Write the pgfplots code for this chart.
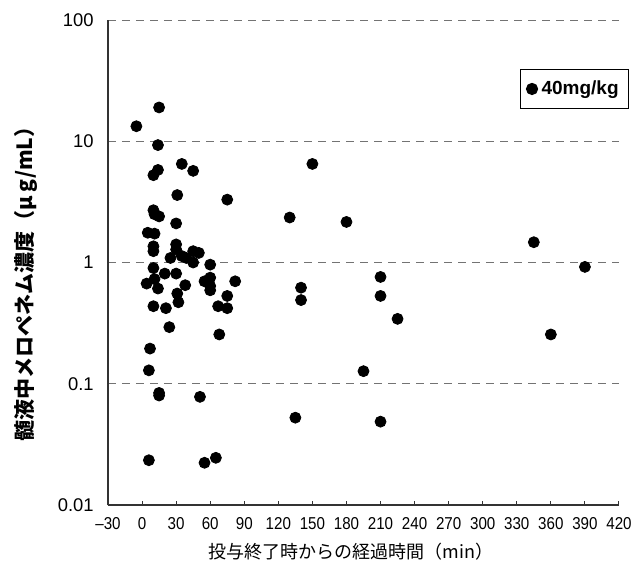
\documentclass[border=0pt]{standalone}
\usepackage{pgfplots}
\pgfplotsset{compat=1.18}
\usepackage{fontspec}
\setmainfont{Liberation Sans}
\newfontfamily\cjk{Noto Sans CJK JP}
\newfontfamily\narrow{Liberation Sans}[FakeStretch=0.88]

\pgfplotstableread{
x y
-5 13.3
15 19
14 9.3
35 6.5
45 5.7
14 5.8
10 5.25
31 3.6
75 3.3
130 2.35
150 6.5
10 2.7
11 2.5
15 2.4
30 2.1
5 1.76
11 1.73
10 1.36
10 1.24
30 1.41
30 1.28
25 1.09
35 1.13
45 1.24
50 1.2
45 1.0
39 1.09
60 0.96
10 0.9
20 0.81
30 0.81
4 0.67
11 0.73
14 0.61
38 0.65
55 0.70
60 0.75
60 0.64
82 0.70
31 0.555
75 0.53
10 0.436
21 0.42
67 0.436
75 0.42
60 0.59
32 0.47
24 0.293
68 0.255
7 0.195
6 0.129
15 0.084
15 0.080
51 0.078
6 0.0234
55 0.0223
65 0.0245
140 0.62
140 0.49
180 2.16
345 1.47
390 0.92
210 0.76
210 0.53
225 0.343
360 0.255
195 0.127
135 0.0525
210 0.0487
}\meropenem

\begin{document}
\begin{tikzpicture}
\useasboundingbox (0,0) rectangle (316pt,284pt);
\begin{axis}[
  at={(54pt,31.5pt)}, anchor=south west,
  scale only axis, width=255.5pt, height=242.5pt,
  ymode=log,
  xmin=-30, xmax=420, ymin=0.01, ymax=100,
  axis x line*=bottom, axis y line*=left,
  axis line style={-, black!80, line width=0.6pt},
  xtick={-30,0,30,60,90,120,150,180,210,240,270,300,330,360,390,420},
  xticklabels={–30,0,30,60,90,120,150,180,210,240,270,300,330,360,390,420},
  ytick={0.01,0.1,1,10,100},
  yticklabels={0.01,0.1,1,10,100},
  minor ytick={},
  tick align=inside,
  xtick style={black!80, line width=0.5pt},
  major tick length=2pt,
  ytick style={draw=none},
  xticklabel style={font=\narrow\fontsize{8.6}{9}\selectfont, anchor=center, yshift=-9.5pt},
  yticklabel style={font=\fontsize{9.2}{10}\selectfont, anchor=east, inner sep=0pt, xshift=-7pt},
  /pgf/number format/assume math mode=true,
  ymajorgrids=true,
  major grid style={dash pattern=on 4pt off 3pt, black!55, line width=0.5pt},
  xlabel={\cjk\fontsize{9}{10}\selectfont 投与終了時からの経過時間（min）},
  xlabel style={at={([yshift=-23.5pt]axis description cs:0.476,0)}, anchor=center},
  ylabel={\cjk\bfseries\fontsize{10.5}{11}\selectfont 髄液中メロペネム濃度（μ\,g/mL）},
  ylabel style={at={([xshift=-41pt]axis description cs:0,0.466)}, anchor=center},
  legend style={at={(rel axis cs:1.02,0.899)}, anchor=north east,
    font=\bfseries\fontsize{9.5}{11}\selectfont, draw=black, line width=0.6pt,
    inner xsep=3pt, inner ysep=3.5pt},
  legend cell align=left,
  clip=false,
]
\addplot[only marks, mark=*, mark size=2.75pt, black, mark options={fill=black}] table[x=x, y=y] {\meropenem};
\addlegendentry{40mg/kg}
\end{axis}
\end{tikzpicture}
\end{document}
